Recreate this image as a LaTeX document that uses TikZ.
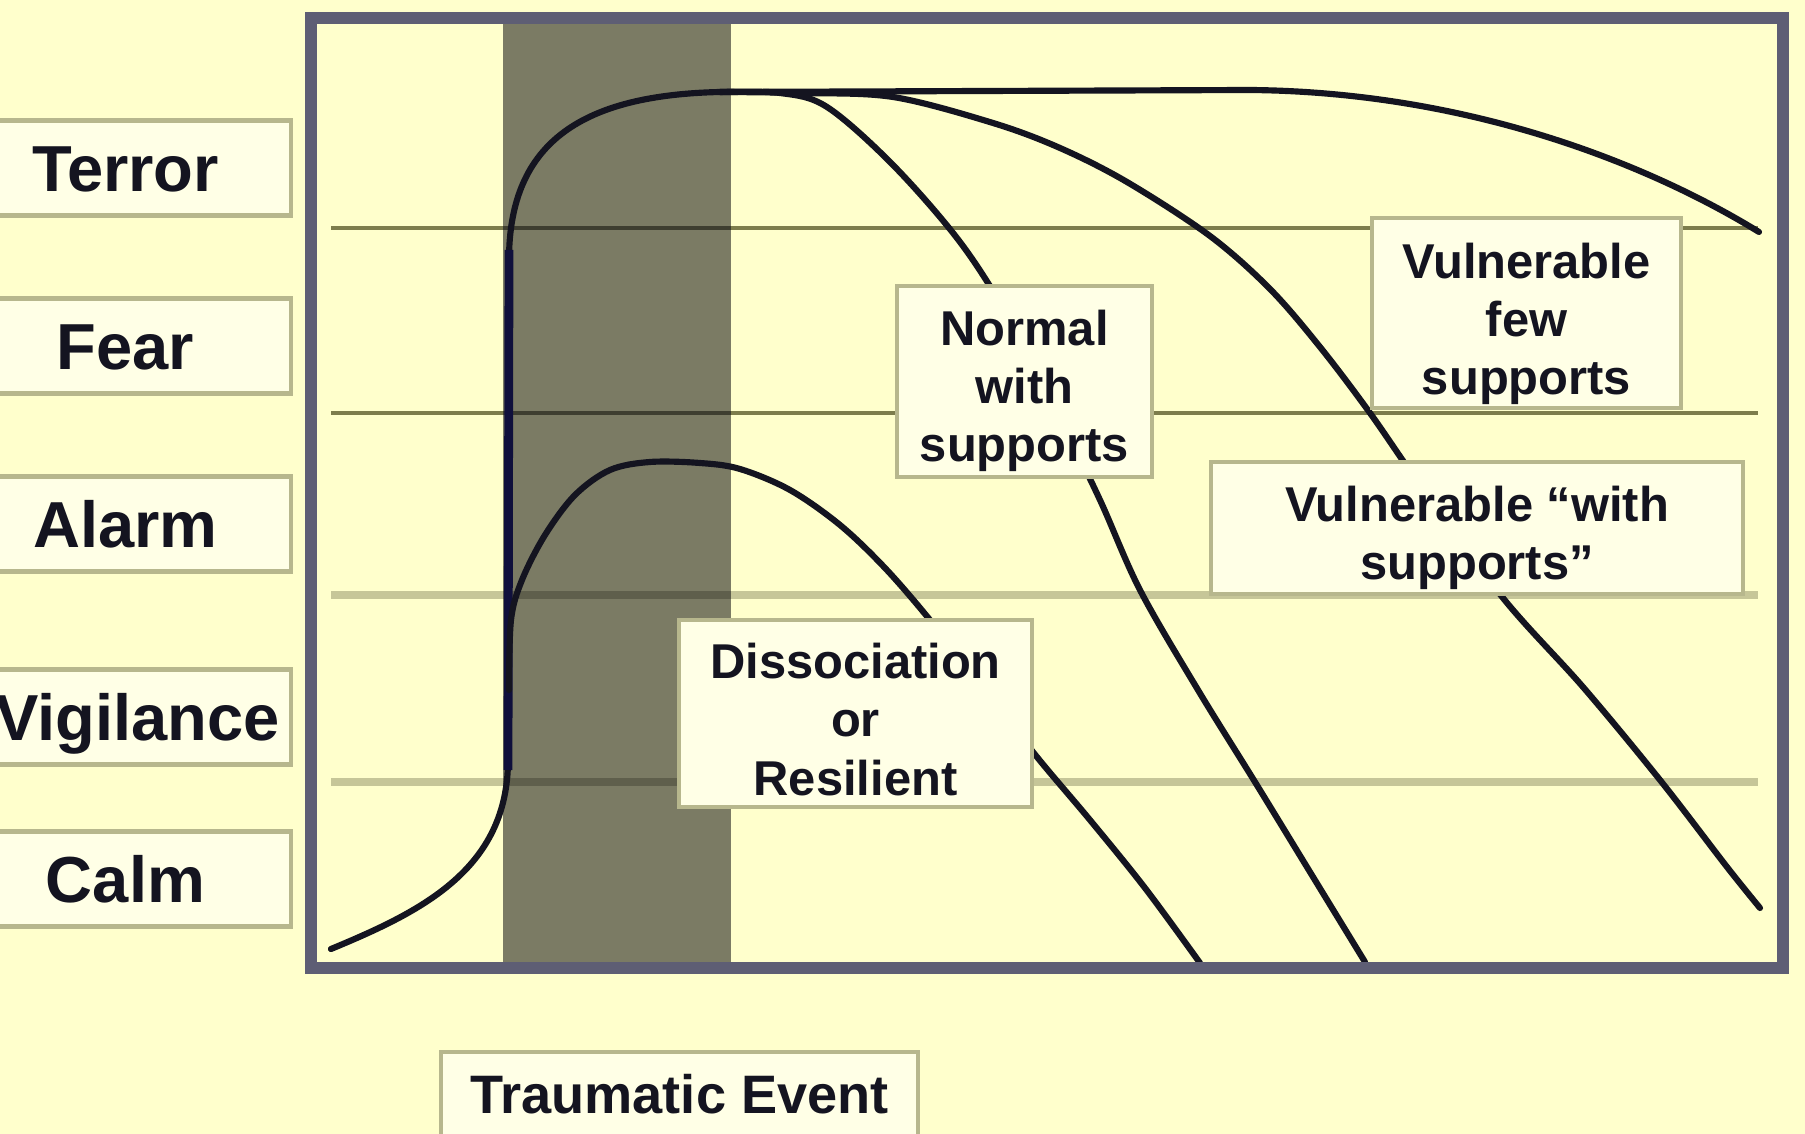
\documentclass[tikz,border=0pt]{standalone}
\usepackage{fontspec}
\setmainfont{Liberation Sans}
\definecolor{bgc}{HTML}{FFFFCC}
\definecolor{bandc}{HTML}{7B7B64}
\definecolor{framec}{HTML}{5E5E74}
\definecolor{gridA}{HTML}{7D7D4C}
\definecolor{gridAd}{HTML}{3E3E30}
\definecolor{gridB}{HTML}{C6C698}
\definecolor{gridBd}{HTML}{5F5F4C}
\definecolor{boxline}{HTML}{B7B78D}
\definecolor{boxfill}{HTML}{FFFFE6}
\definecolor{ink}{HTML}{141420}
\definecolor{navyink}{HTML}{10103C}
\begin{document}
\begin{tikzpicture}[x=0.01cm,y=-0.01cm,
  curve/.style={line width=1.75pt, draw=ink, line cap=round, line join=round},
  levelbox/.style={draw=boxline, line width=1.2pt, fill=boxfill, inner sep=0pt, outer sep=0pt,
     minimum width=3.31cm, minimum height=0.95cm, text=ink,
     font=\fontsize{18.5pt}{22pt}\selectfont\bfseries, text height=13.3pt, text depth=0pt},
  tagbox/.style={draw=boxline, line width=1.3pt, fill=boxfill, inner sep=0pt, outer sep=0pt,
     align=center, text=ink, font=\fontsize{13.9pt}{16.5pt}\selectfont\bfseries},
  eventbox/.style={draw=boxline, line width=1.3pt, fill=boxfill, inner sep=0pt, outer sep=0pt,
     minimum width=4.77cm, minimum height=0.85cm, text=ink,
     font=\fontsize{15.4pt}{18pt}\selectfont\bfseries, text height=11pt, text depth=0pt}
]
\useasboundingbox (0,0) rectangle (1805,1134);
\fill[bgc] (0,0) rectangle (1805,1134);

% traumatic event band
\fill[bandc] (503,24) rectangle (731,963);

% level grid lines
\foreach \y in {228,413} {
  \draw[gridA, line width=1.1pt] (331,\y) -- (1758,\y);
  \draw[gridAd, line width=1.1pt] (503,\y) -- (731,\y);
}
\foreach \y in {595,782} {
  \draw[gridB, line width=2.2pt] (331,\y) -- (1758,\y);
  \draw[gridBd, line width=2.2pt] (503,\y) -- (731,\y);
}

% main arousal curve, staying high (vulnerable, few supports)
\draw[curve] (331,949) .. controls (420,912) and (508,870) .. (508,760)
  -- (509,260) .. controls (509,140) and (585,95) .. (720,92)
  -- (1250,90) .. controls (1470,92) and (1650,165) .. (1759,232);
\draw[navyink, line width=2.5pt] (508,770) -- (509,250);

% normal with supports
\draw[curve] plot[smooth, tension=0.55] coordinates {
  (720,92) (780,93) (827,107) (893,165) (960,242) (1010,320) (1060,418)
  (1100,500) (1140,590) (1198,690) (1255,782) (1310,872) (1365,962)};

% vulnerable with supports
\draw[curve] plot[smooth, tension=0.55] coordinates {
  (720,92) (800,93) (893,97) (993,123) (1060,148) (1127,182) (1210,236)
  (1270,289) (1320,347) (1370,413) (1420,485) (1503,598) (1583,687)
  (1660,780) (1727,867) (1760,908)};

% dissociation or resilient
\draw[curve] plot[smooth, tension=0.55] coordinates {
  (509,690) (511,620) (522,580) (545,535) (575,495) (610,470) (650,462)
  (700,463) (740,469) (790,490) (840,525) (885,568) (930,620) (985,690)
  (1037,757) (1090,820) (1145,888) (1200,963)};

% curve labels
\node[tagbox, minimum width=2.55cm, minimum height=1.91cm] (normal) at (1024.5,381.5)
  {\rule{0pt}{15.5pt}Normal\\with\\supports};
\node[tagbox, minimum width=3.09cm, minimum height=1.90cm] (vfew) at (1526.5,313)
  {\rule{0pt}{16pt}Vulnerable\\few\\supports};
\node[tagbox, minimum width=5.32cm, minimum height=1.32cm] (vwith) at (1477,528)
  {\rule{0pt}{15.5pt}Vulnerable “with\\supports”};
\node[tagbox, minimum width=3.53cm, minimum height=1.87cm] (diss) at (855.5,713.5)
  {\rule{0pt}{13.5pt}Dissociation\\or\\Resilient};

% frame
\draw[framec, line width=3.4pt] (311,18) rectangle (1783,968);

% level labels
\node[levelbox] (terror) at (125.5,168) {Terror};
\node[levelbox] (fear) at (125.5,346) {Fear};
\node[levelbox] (alarm) at (125.5,524) {Alarm};
\node[levelbox] (vigilance) at (125.5,717) {\hspace*{0.24cm}Vigilance};
\node[levelbox] (calm) at (125.5,879) {Calm};

% event label
\node[eventbox] (event) at (679.5,1094.5) {Traumatic Event};
\end{tikzpicture}
\end{document}
